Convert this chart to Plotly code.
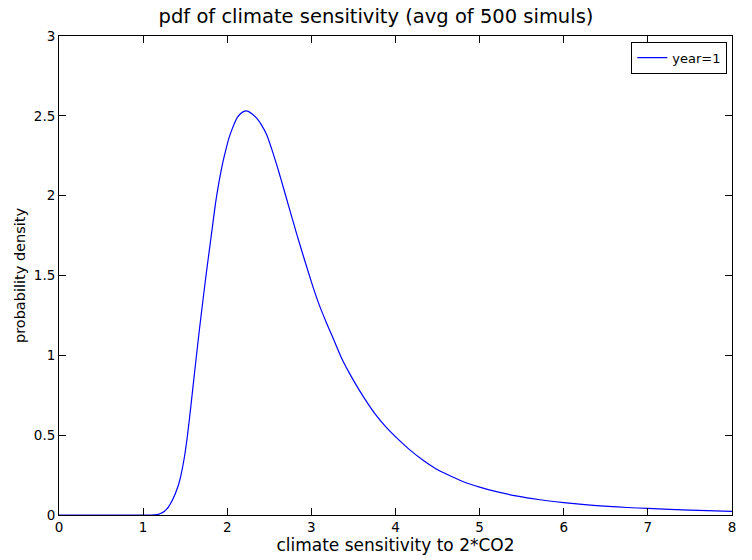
import plotly.graph_objects as go

# values
sensitivity = [0.0, 0.5, 1.0, 1.1, 1.16, 1.2, 1.25, 1.3, 1.35, 1.415, 1.45, 1.49, 1.52,
               1.55, 1.59, 1.63, 1.67, 1.71, 1.75, 1.79, 1.82, 1.86, 1.90, 1.94, 1.98,
               2.02, 2.06, 2.12, 2.16, 2.21, 2.25, 2.30, 2.35, 2.41, 2.47, 2.53, 2.59,
               2.64, 2.70, 2.76, 2.82, 2.90, 3.0, 3.08, 3.17, 3.26, 3.365, 3.45, 3.56,
               3.65, 3.755, 3.88, 4.03, 4.17, 4.34, 4.47, 4.61, 4.8, 5.0, 5.2, 5.45,
               5.7, 6.0, 6.25, 6.53, 6.75, 7.0, 7.5, 8.0]
density = [0.0, 0.0, 0.0, 0.0, 0.002, 0.008, 0.022, 0.05, 0.095, 0.18, 0.25, 0.36, 0.47,
           0.60, 0.79, 0.98, 1.165, 1.34, 1.51, 1.67, 1.79, 1.95, 2.08, 2.19, 2.28,
           2.36, 2.42, 2.49, 2.515, 2.53, 2.528, 2.51, 2.485, 2.44, 2.38, 2.29, 2.19,
           2.10, 1.99, 1.88, 1.77, 1.63, 1.46, 1.335, 1.215, 1.105, 0.975, 0.89, 0.79,
           0.715, 0.635, 0.555, 0.475, 0.408, 0.338, 0.293, 0.255, 0.21, 0.175, 0.146, 0.118,
           0.097, 0.078, 0.065, 0.054, 0.047, 0.041, 0.031, 0.023]

x_ticks = [0, 1, 2, 3, 4, 5, 6, 7, 8]
y_ticks = [0, 0.5, 1, 1.5, 2, 2.5, 3]
y_tick_labels = ["0", "0.5", "1", "1.5", "2", "2.5", "3"]

font = "DejaVu Sans, Liberation Sans, Arial, sans-serif"

fig = go.Figure()
fig.add_trace(go.Scatter(
    x=sensitivity, y=density, mode="lines", name="year=1",
    line=dict(color="#0000ff", width=1.2, shape="spline", smoothing=0.6),
))

fig.update_layout(
    width=752, height=560,
    margin=dict(l=59, r=20, t=36, b=39),
    paper_bgcolor="white", plot_bgcolor="white",
    font=dict(family=font, size=13.5, color="black"),
    title=dict(text="pdf of climate sensitivity (avg of 500 simuls)",
               x=0.5, xref="container", xanchor="center",
               y=1 - 16 / 560, yref="container", yanchor="middle",
               font=dict(size=19.5, family=font, color="black")),
    showlegend=True,
    legend=dict(x=0.993, y=0.988, xanchor="right", yanchor="top",
                bordercolor="black", borderwidth=1, bgcolor="white",
                font=dict(size=13, family=font),
                itemwidth=30, tracegroupgap=0),
)

fig.update_xaxes(
    range=[0, 8], tickvals=x_ticks, ticktext=[str(v) for v in x_ticks],
    showgrid=False, zeroline=False,
    showline=True, linecolor="black", linewidth=1, mirror="ticks",
    ticks="inside", ticklen=7, tickcolor="black", tickwidth=1,
    tickfont=dict(size=13.5, family=font),
    title=dict(text="climate sensitivity to 2*CO2", standoff=1,
               font=dict(size=17, family=font)),
)
fig.update_yaxes(
    range=[0, 3], tickvals=y_ticks, ticktext=y_tick_labels,
    showgrid=False, zeroline=False,
    showline=True, linecolor="black", linewidth=1, mirror="ticks",
    ticks="inside", ticklen=7, tickcolor="black", tickwidth=1,
    tickfont=dict(size=13.5, family=font),
    title=dict(text="probability density", standoff=4,
               font=dict(size=14.5, family=font)),
)

fig.write_html("out.html", config={"displayModeBar": False})

# remove the default page margin so the figure sits at the window origin
with open("out.html", "r", encoding="utf-8") as f:
    html = f.read()
html = html.replace("<body>", '<body style="margin:0;padding:0;overflow:hidden">', 1)
with open("out.html", "w", encoding="utf-8") as f:
    f.write(html)
